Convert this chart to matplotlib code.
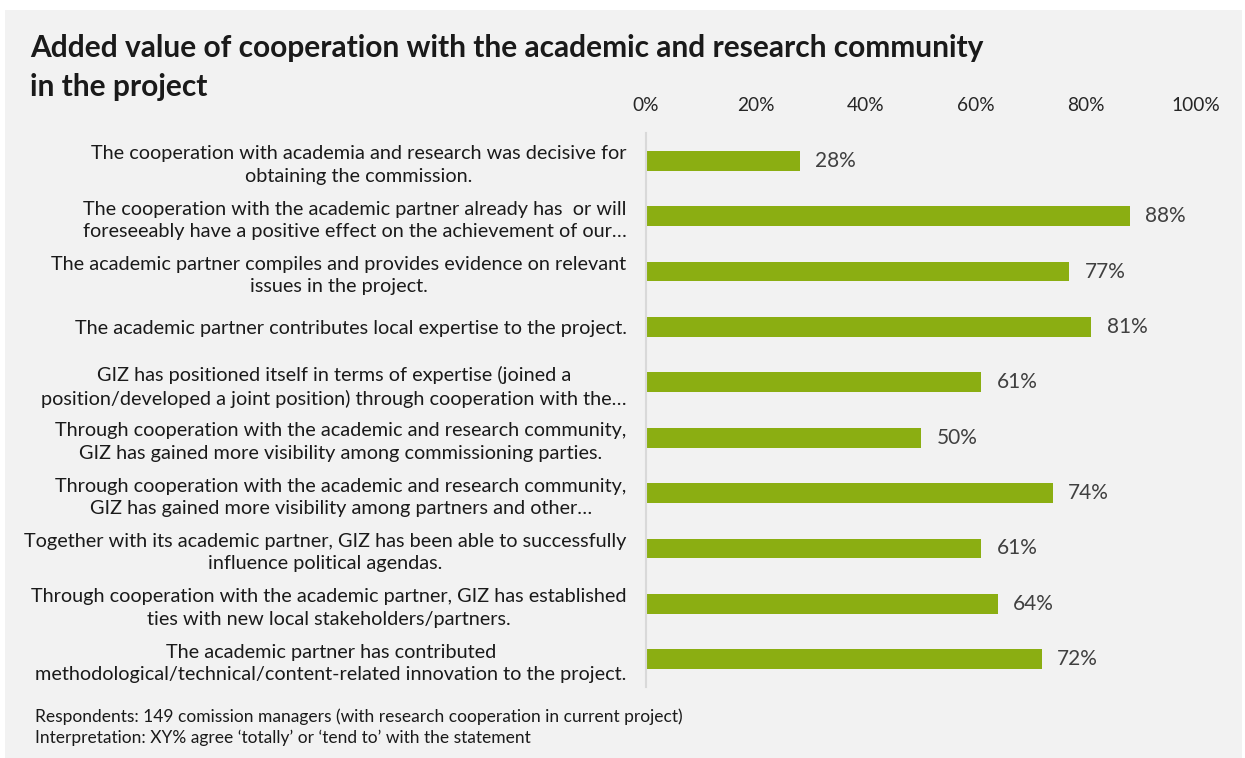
import matplotlib.pyplot as plt
from matplotlib.patches import Rectangle

plt.rcParams['font.family'] = ['Lato', 'DejaVu Sans']

statements = [
    "The cooperation with academia and research was decisive for\nobtaining the commission.",
    "The cooperation with the academic partner already has  or will\nforeseeably have a positive effect on the achievement of our…",
    "The academic partner compiles and provides evidence on relevant\nissues in the project.",
    "The academic partner contributes local expertise to the project.",
    "GIZ has positioned itself in terms of expertise (joined a\nposition/developed a joint position) through cooperation with the…",
    "Through cooperation with the academic and research community,\nGIZ has gained more visibility among commissioning parties.",
    "Through cooperation with the academic and research community,\nGIZ has gained more visibility among partners and other…",
    "Together with its academic partner, GIZ has been able to successfully\ninfluence political agendas.",
    "Through cooperation with the academic partner, GIZ has established\nties with new local stakeholders/partners.",
    "The academic partner has contributed\nmethodological/technical/content-related innovation to the project.",
]
agree = [28, 88, 77, 81, 61, 50, 74, 61, 64, 72]
xticks = [0, 20, 40, 60, 80, 100]
title_lines = ["Added value of cooperation with the academic and research community",
               "in the project"]

bg = '#f2f2f2'
green = '#8bae12'

fig = plt.figure(figsize=(12.45, 7.58), dpi=100)
fig.patch.set_facecolor('white')
# grey panel with a thin white margin at top/left
fig.add_artist(Rectangle((5 / 1245, 0), 1 - 8 / 1245, 1 - 10 / 758,
                         transform=fig.transFigure, facecolor=bg,
                         edgecolor='none', zorder=-10))

ax = fig.add_axes([0.5189, 0.0937, 0.9606 - 0.5189, 0.8245 - 0.0937])
ax.set_facecolor('none')

y = list(range(len(agree)))
ax.barh(y, agree, height=0.36, color=green)
for yi, v in zip(y, agree):
    ax.text(v + 2.8, yi, f"{v}%", va='center', ha='left',
            fontsize=15, color='#404040')

ax.set_xlim(0, 100)
ax.set_ylim(len(agree) - 0.5, -0.5)
ax.xaxis.tick_top()
ax.set_xticks(xticks)
ax.set_xticklabels([f"{t}%" for t in xticks], fontsize=13.8, color='#262626')
ax.set_yticks(y)
ax.set_yticklabels(statements, fontsize=14.3, color='#1a1a1a')
for lab in ax.get_yticklabels():
    lab.set_multialignment('center')
    lab.set_linespacing(1.38)
ax.tick_params(axis='both', length=0)
ax.tick_params(axis='x', pad=14)
ax.tick_params(axis='y', pad=14)

for s in ['top', 'right', 'bottom']:
    ax.spines[s].set_visible(False)
ax.spines['left'].set_color('#d9d9d9')
ax.spines['left'].set_linewidth(1.5)

# title, one text per line
for line, ypix in zip(title_lines, [48, 87]):
    fig.text(30 / 1245, 1 - ypix / 758, line,
             fontsize=21.5, fontweight='bold', color='#1a1a1a',
             ha='left', va='center')

fig.text(35 / 1245, 1 - 727 / 758,
         "Respondents: 149 comission managers (with research cooperation in current project)\n"
         "Interpretation: XY% agree \u2018totally\u2019 or \u2018tend to\u2019 with the statement",
         fontsize=12.5, color='#1a1a1a', ha='left', va='center', linespacing=1.37)

fig.savefig('out.png', dpi=100, facecolor=fig.get_facecolor())
